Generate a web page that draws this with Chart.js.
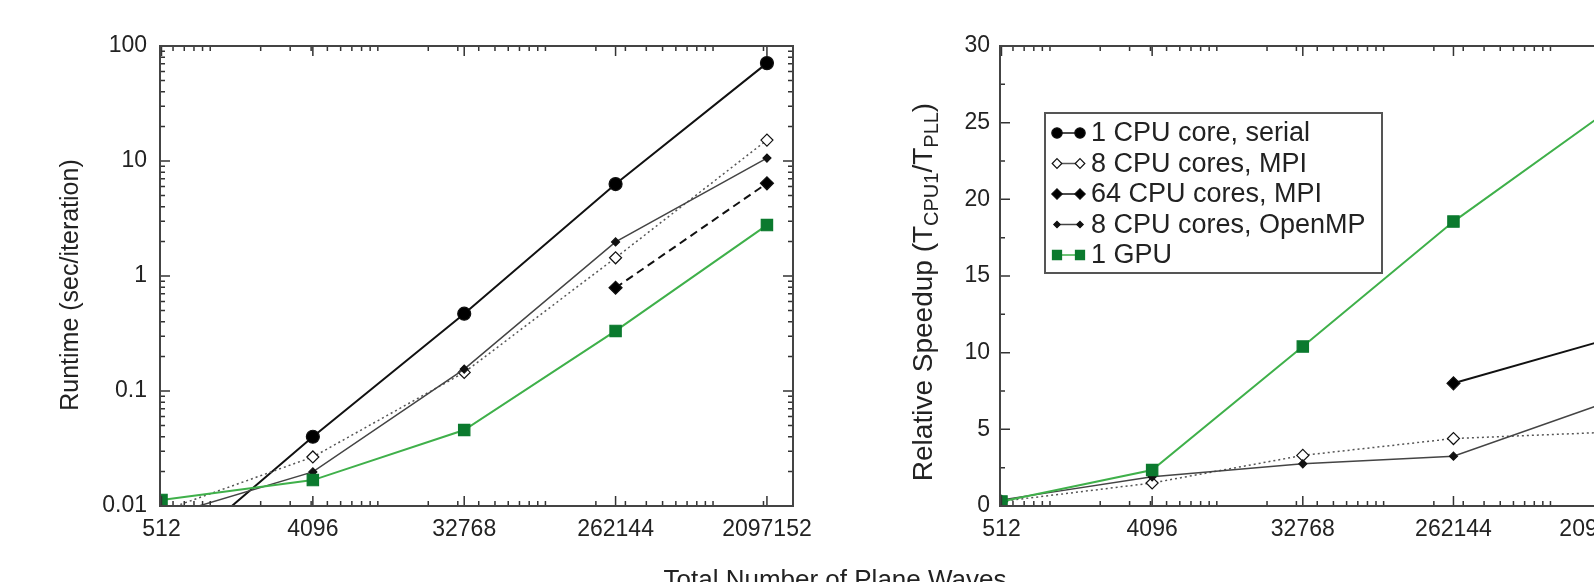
<!DOCTYPE html>
<html>
<head>
<meta charset="utf-8">
<script src="https://cdn.jsdelivr.net/npm/chart.js@4.4.1/dist/chart.umd.min.js"></script>
<style>
html, body { margin: 0; padding: 0; background: #fff; overflow: hidden; }
#wrap { position: relative; width: 1594px; height: 582px; overflow: hidden; }
#left { position: absolute; left: 0; top: 0; }
#right { position: absolute; left: 830px; top: 0; }
#xtitle {
    position: absolute; left: 0; top: 566px; width: 1670px;
    text-align: center; white-space: nowrap; color: #222;
    font: 26px "Liberation Sans", Arial, sans-serif; line-height: 26px;
}
</style>
</head>
<body>
<div id="wrap">
    <canvas id="left" width="830" height="582"></canvas>
    <canvas id="right" width="830" height="582"></canvas>
    <div id="xtitle">Total Number of Plane Waves</div>
</div>
<script>
/* ==========================================================
   DATA
========================================================== */

const planeWaves = [512, 4096, 32768, 262144, 2097152];

const seriesNames = [
    "1 CPU core, serial",
    "8 CPU cores, MPI",
    "64 CPU cores, MPI",
    "8 CPU cores, OpenMP",
    "1 GPU"
];

// runtime in sec/iteration (left panel)
const runtimeSerial = [0.003, 0.040, 0.47, 6.3, 71];
const runtimeMpi8   = [0.009, 0.0267, 0.145, 1.44, 15.2];
const runtimeMpi64  = [null, null, null, 0.79, 6.4];
const runtimeOmp8   = [0.008, 0.0198, 0.155, 1.98, 10.6];
const runtimeGpu    = [0.0113, 0.0168, 0.0458, 0.333, 2.77];

// relative speedup T_CPU1 / T_PLL (right panel)
const speedupSerial = [];
const speedupMpi8   = [0.3, 1.5, 3.3, 4.4, 4.8];
const speedupMpi64  = [null, null, null, 8.0, 10.8];
const speedupOmp8   = [0.4, 1.9, 2.75, 3.25, 6.7];
const speedupGpu    = [0.3, 2.35, 10.4, 18.55, 25.6];

const runtimeTicks = [0.01, 0.1, 1, 10, 100];
const speedupTicks = [0, 5, 10, 15, 20, 25, 30];

const FONT = '"Liberation Sans", Arial, sans-serif';
const INK = "#222";

/* ==========================================================
   SERIES STYLES
========================================================== */

const styles = [
    { color: "#111", width: 2, dash: [], point: "circle", radius: 6.5, fill: "#000" },
    { color: "#555", width: 1.5, dash: [2, 3], point: "rectRot", radius: 6, fill: "#fff" },
    { color: "#111", width: 2, dash: [8, 5], point: "rectRot", radius: 6.5, fill: "#000" },
    { color: "#444", width: 1.5, dash: [], point: "rectRot", radius: 4, fill: "#111" },
    { color: "#3fb04a", width: 2, dash: [], point: "rect", radius: 8, fill: "#0b7a2e" }
];

function toPoints(values) {
    return planeWaves
        .map((x, i) => ({ x: x, y: values[i] }))
        .filter(p => p.y != null);
}

// dashOverride: optional { index: dashArray } for one panel
function makeDatasets(seriesList, dashOverride = {}) {
    return seriesList.map((values, i) => {
        const s = styles[i];
        return {
            label: seriesNames[i],
            data: toPoints(values),
            borderColor: s.color,
            borderWidth: s.width,
            borderDash: dashOverride[i] ?? s.dash,
            pointStyle: s.point,
            pointRadius: s.radius,
            pointBackgroundColor: s.fill,
            pointBorderColor: i === 4 ? "#0b7a2e" : "#111",
            pointBorderWidth: 1.2,
            tension: 0,
            order: 4 - i
        };
    });
}

/* ==========================================================
   PLUGINS
========================================================== */

// box round the plot area with inward ticks on every side
const frameTicks = {
    id: "frameTicks",
    afterDatasetsDraw(chart) {
        const { ctx, chartArea: a, scales: { x, y } } = chart;
        const major = 10, minor = 5;

        ctx.save();
        ctx.strokeStyle = "#333";
        ctx.lineWidth = 1.5;
        ctx.beginPath();

        const xTick = (v, len) => {
            const px = x.getPixelForValue(v);
            if (px < a.left || px > a.right) return;
            ctx.moveTo(px, a.bottom); ctx.lineTo(px, a.bottom - len);
            ctx.moveTo(px, a.top); ctx.lineTo(px, a.top + len);
        };
        const yTick = (v, len) => {
            const py = y.getPixelForValue(v);
            if (py < a.top - 0.5 || py > a.bottom + 0.5) return;
            ctx.moveTo(a.left, py); ctx.lineTo(a.left + len, py);
            ctx.moveTo(a.right, py); ctx.lineTo(a.right - len, py);
        };

        for (let k = 2; k <= 6; k++) {
            for (let m = 1; m <= 9; m++) {
                xTick(m * Math.pow(10, k), minor);
            }
        }
        planeWaves.forEach(v => xTick(v, major));

        if (y.type === "logarithmic") {
            for (let k = -2; k <= 1; k++) {
                for (let m = 2; m <= 9; m++) {
                    yTick(m * Math.pow(10, k), minor);
                }
            }
            runtimeTicks.forEach(v => yTick(v, major));
        } else {
            for (let v = 0; v <= 30; v += 2.5) {
                yTick(v, v % 5 === 0 ? major : minor);
            }
        }
        ctx.stroke();

        ctx.lineWidth = 2;
        ctx.strokeStyle = "#444";
        ctx.strokeRect(a.left, a.top, a.right - a.left, a.bottom - a.top);
        ctx.restore();
    }
};

// rotated y-axis title, with optional subscripts
const yTitle = {
    id: "yTitle",
    afterDraw(chart, args, opts) {
        if (!opts || !opts.parts) return;
        const { ctx } = chart;
        const size = opts.size, subSize = opts.subSize || size;

        ctx.save();
        ctx.fillStyle = INK;
        ctx.textBaseline = "middle";
        ctx.textAlign = "left";

        let total = 0;
        opts.parts.forEach(p => {
            ctx.font = (p.sub ? subSize : size) + "px " + FONT;
            p.w = ctx.measureText(p.t).width;
            total += p.w;
        });

        ctx.translate(opts.x, opts.y);
        ctx.rotate(-Math.PI / 2);

        let pos = -total / 2;
        opts.parts.forEach(p => {
            ctx.font = (p.sub ? subSize : size) + "px " + FONT;
            ctx.fillText(p.t, pos, p.sub ? 8 : 0);
            pos += p.w;
        });
        ctx.restore();
    }
};

function drawMarker(ctx, ds, r, x, y) {
    ctx.beginPath();
    if (ds.pointStyle === "circle") {
        ctx.arc(x, y, r, 0, 2 * Math.PI);
    } else if (ds.pointStyle === "rectRot") {
        ctx.moveTo(x, y - r); ctx.lineTo(x + r, y);
        ctx.lineTo(x, y + r); ctx.lineTo(x - r, y);
        ctx.closePath();
    } else {
        const s = r * Math.SQRT1_2;
        ctx.rect(x - s, y - s, 2 * s, 2 * s);
    }
    ctx.fillStyle = ds.pointBackgroundColor;
    ctx.fill();
    ctx.lineWidth = 1.2;
    ctx.strokeStyle = ds.pointBorderColor;
    ctx.stroke();
}

// framed legend inside the plot area
const boxLegend = {
    id: "boxLegend",
    afterDraw(chart, args, opts) {
        if (!opts || !opts.show) return;
        const { ctx, chartArea: a } = chart;
        const left = a.left + opts.dx, top = a.top + opts.dy;

        ctx.save();
        ctx.fillStyle = "#fff";
        ctx.fillRect(left, top, opts.w, opts.h);
        ctx.strokeStyle = "#555";
        ctx.lineWidth = 2;
        ctx.strokeRect(left, top, opts.w, opts.h);

        ctx.font = "27px " + FONT;
        ctx.textBaseline = "middle";
        ctx.textAlign = "left";

        chart.data.datasets.forEach((ds, i) => {
            const cy = top + 20 + i * 30.5;
            const x1 = left + 12, x2 = left + 35;

            ctx.beginPath();
            ctx.setLineDash([]);
            ctx.strokeStyle = ds.borderColor;
            ctx.lineWidth = 1.5;
            ctx.moveTo(x1, cy); ctx.lineTo(x2, cy);
            ctx.stroke();

            const r = ds.pointRadius * 0.8;
            drawMarker(ctx, ds, r, x1, cy);
            drawMarker(ctx, ds, r, x2, cy);

            ctx.fillStyle = INK;
            ctx.fillText(ds.label, left + 46, cy + 1);
        });
        ctx.restore();
    }
};

/* ==========================================================
   CHART RENDERER
========================================================== */

function xAxis() {
    return {
        type: "logarithmic",
        min: 501.6,
        max: 3.0e6,
        afterBuildTicks: s => { s.ticks = planeWaves.map(v => ({ value: v })); },
        afterFit: s => { s.height = 76; },
        grid: { display: false, drawTicks: false },
        border: { display: false },
        ticks: {
            autoSkip: false,
            maxRotation: 0,
            padding: 10,
            color: INK,
            font: { family: FONT, size: 23 },
            callback: v => String(v)
        }
    };
}

function renderChart(canvasId, datasets, yScale, padRight, title, legend) {
    return new Chart(document.getElementById(canvasId), {
        type: "line",
        data: { datasets: datasets },
        options: {
            responsive: false,
            animation: false,
            layout: { padding: { top: 46, right: padRight, bottom: 0, left: 0 } },
            scales: { x: xAxis(), y: yScale },
            plugins: {
                legend: { display: false },
                tooltip: { enabled: false },
                yTitle: title,
                boxLegend: legend
            }
        },
        plugins: [frameTicks, yTitle, boxLegend]
    });
}

renderChart(
    "left",
    makeDatasets([runtimeSerial, runtimeMpi8, runtimeMpi64, runtimeOmp8, runtimeGpu]),
    {
        type: "logarithmic",
        min: 0.01,
        max: 100,
        afterBuildTicks: s => { s.ticks = runtimeTicks.map(v => ({ value: v })); },
        afterFit: s => { s.width = 160; },
        grid: { display: false, drawTicks: false },
        border: { display: false },
        ticks: {
            padding: 13,
            color: INK,
            font: { family: FONT, size: 23 },
            callback: v => String(v)
        }
    },
    37,
    { x: 71, y: 285, size: 25, parts: [{ t: "Runtime (sec/iteration)" }] },
    { show: false }
);

renderChart(
    "right",
    // the 64-core line is solid in this panel
    makeDatasets([speedupSerial, speedupMpi8, speedupMpi64, speedupOmp8, speedupGpu], { 2: [] }),
    {
        type: "linear",
        min: 0,
        max: 30,
        afterBuildTicks: s => { s.ticks = speedupTicks.map(v => ({ value: v })); },
        afterFit: s => { s.width = 170; },
        grid: { display: false, drawTicks: false },
        border: { display: false },
        ticks: {
            padding: 10,
            color: INK,
            font: { family: FONT, size: 23 }
        }
    },
    27,
    {
        x: 94, y: 292, size: 28, subSize: 20,
        parts: [
            { t: "Relative Speedup (T" },
            { t: "CPU1", sub: true },
            { t: "/T" },
            { t: "PLL", sub: true },
            { t: ")" }
        ]
    },
    { show: true, dx: 45, dy: 67, w: 337, h: 160 }
);
</script>
</body>
</html>
